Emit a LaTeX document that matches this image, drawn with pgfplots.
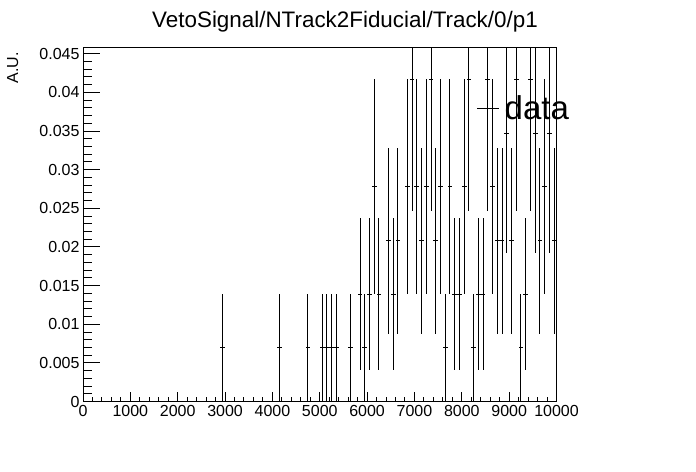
\documentclass[border=0pt]{standalone}
\usepackage{fontspec}
\setmainfont{Liberation Sans}
\usepackage{pgfplots}
\usepackage{pgfplotstable}
\pgfplotsset{compat=1.18}
\pgfplotstableread{
x y e
2950 0.0069444 0.0069444
4150 0.0069444 0.0069444
4750 0.0069444 0.0069444
5050 0.0069444 0.0069444
5150 0.0069444 0.0069444
5250 0.0069444 0.0069444
5350 0.0069444 0.0069444
5650 0.0069444 0.0069444
5850 0.0138889 0.0098209
5950 0.0069444 0.0069444
6050 0.0138889 0.0098209
6150 0.0277778 0.0138889
6250 0.0138889 0.0098209
6450 0.0208333 0.0120281
6550 0.0138889 0.0098209
6650 0.0208333 0.0120281
6850 0.0277778 0.0138889
6950 0.0416667 0.0170103
7050 0.0277778 0.0138889
7150 0.0208333 0.0120281
7250 0.0277778 0.0138889
7350 0.0416667 0.0170103
7450 0.0208333 0.0120281
7550 0.0277778 0.0138889
7650 0.0069444 0.0069444
7750 0.0277778 0.0138889
7850 0.0138889 0.0098209
7950 0.0138889 0.0098209
8050 0.0277778 0.0138889
8150 0.0416667 0.0170103
8250 0.0069444 0.0069444
8350 0.0138889 0.0098209
8450 0.0138889 0.0098209
8550 0.0416667 0.0170103
8650 0.0277778 0.0138889
8750 0.0208333 0.0120281
8850 0.0208333 0.0120281
8950 0.0347222 0.0155282
9050 0.0208333 0.0120281
9150 0.0416667 0.0170103
9250 0.0069444 0.0069444
9350 0.0138889 0.0098209
9450 0.0416667 0.0170103
9550 0.0347222 0.0155282
9650 0.0208333 0.0120281
9750 0.0277778 0.0138889
9850 0.0347222 0.0155282
9950 0.0208333 0.0120281
}\datatable
\begin{document}
\begin{tikzpicture}[x=1bp,y=1bp]
\useasboundingbox (0,0) rectangle (696,472);
\begin{axis}[
  anchor=south west, at={(83bp,70.4bp)},
  width=473.5bp, height=354.3bp, scale only axis,
  xmin=0, xmax=10000, ymin=0, ymax=0.04583,
  xtick={0,1000,...,10000},
  ytick={0,0.005,0.01,0.015,0.02,0.025,0.03,0.035,0.04,0.045},
  yticklabels={0,0.005,0.01,0.015,0.02,0.025,0.03,0.035,0.04,0.045},
  scaled x ticks=false, scaled y ticks=false,
  /pgf/number format/1000 sep={},
  /pgf/number format/assume math mode=true,
  minor x tick num=4, minor y tick num=4,
  tick pos=left, tick align=inside,
  major tick length=17bp, minor tick length=9bp,
  xtick style={/pgfplots/major tick length=10bp,/pgfplots/minor tick length=5bp},
  axis line style={line width=1bp},
  every tick/.style={line width=1bp, black},
  ticklabel style={font=\fontsize{16bp}{18bp}\selectfont},
  legend style={draw=none, fill=none, at={(rel axis cs:0.831,0.827)}, anchor=west,
    font=\fontsize{33bp}{36bp}\selectfont, inner sep=0pt, nodes={inner sep=0pt}, column sep=5bp},
  legend image code/.code={\draw[line width=1bp, black] (0bp,0bp) -- (22bp,0bp);},
]
\addplot[draw=none, mark=none,
  error bars/.cd, x dir=both, x fixed=50, y dir=both, y explicit,
  error mark=none, error bar style={draw=black, line width=1bp}]
  table[x=x, y=y, y error=e] {\datatable};
\addlegendentry{data}
\end{axis}
\node[anchor=base, font=\fontsize{22.4bp}{24bp}\selectfont] at (345,444.7) {VetoSignal/NTrack2Fiducial/Track/0/p1};
\node[rotate=90, anchor=base east, font=\fontsize{16bp}{18bp}\selectfont] at (18,423) {A.U.};
\end{tikzpicture}
\end{document}
